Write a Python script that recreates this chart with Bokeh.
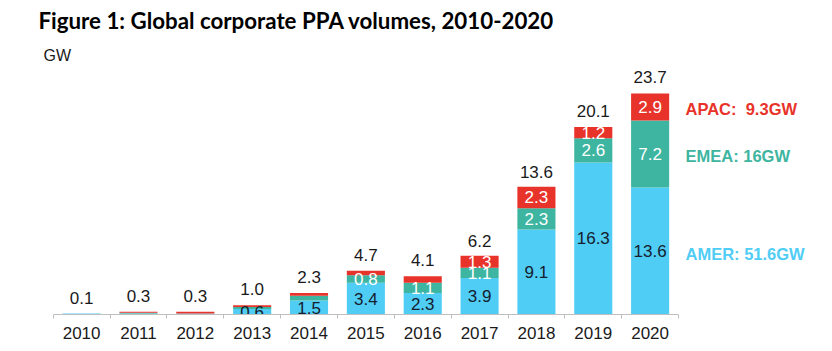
from bokeh.plotting import figure
from bokeh.models import ColumnDataSource, FixedTicker, Range1d
from bokeh.core.properties import value
from bokeh.embed import file_html
from bokeh.resources import INLINE

years = ["2010", "2011", "2012", "2013", "2014", "2015", "2016", "2017", "2018", "2019", "2020"]
amer = [0.1, 0.1, 0.1, 0.6, 1.5, 3.4, 2.3, 3.9, 9.1, 16.3, 13.6]
emea = [0.0, 0.1, 0.0, 0.2, 0.5, 0.8, 1.1, 1.1, 2.3, 2.6, 7.2]
apac = [0.0, 0.1, 0.2, 0.2, 0.3, 0.5, 0.7, 1.3, 2.3, 1.2, 2.9]
totals = [0.1, 0.3, 0.3, 1.0, 2.3, 4.7, 4.1, 6.2, 13.6, 20.1, 23.7]
legend_labels = ["APAC:\u00a0 9.3GW", "EMEA: 16GW", "AMER: 51.6GW"]
title_text = "Figure 1: Global corporate PPA volumes, 2010-2020"
unit_text = "GW"

C_AMER = "#50CDF5"
C_EMEA = "#3DB5A0"
C_APAC = "#E8332A"

# pixel geometry -> data ranges
PX_PER_CAT = 56.85
X0_PX = 52.7
BASE_PX = 314.0
PX_PER_GW = 9.33
W, H = 832, 351
BOTTOM = H - BASE_PX

def dx(px):
    return (px - X0_PX) / PX_PER_CAT

def dy(py):
    return (BASE_PX - py) / PX_PER_GW

p = figure(width=W, height=H, output_backend="svg", toolbar_location=None,
           x_range=Range1d(dx(0), dx(W)), y_range=Range1d(0, dy(0)),
           y_axis_location=None, min_border_left=0, min_border_right=0,
           min_border_top=0, min_border_bottom=int(BOTTOM))
p.outline_line_color = None
p.xgrid.visible = False
p.ygrid.visible = False
p.background_fill_color = "white"
p.border_fill_color = "white"

xs = [i + 0.5 for i in range(len(years))]
src = ColumnDataSource(dict(x=xs, AMER=amer, EMEA=emea, APAC=apac))
p.vbar_stack(["AMER", "EMEA", "APAC"], x="x", width=0.67, source=src,
             color=[C_AMER, C_EMEA, C_APAC], line_color=None)

# x axis
ax = p.xaxis[0]
ax.ticker = FixedTicker(ticks=xs, minor_ticks=list(range(len(years) + 1)))
ax.major_label_overrides = {x: y for x, y in zip(xs, years)}
ax.bounds = (0, len(years))
ax.axis_line_color = "#BFBFBF"
ax.axis_line_width = 1
ax.major_tick_line_color = None
ax.major_tick_out = 0
ax.major_tick_in = 0
ax.minor_tick_line_color = "#BFBFBF"
ax.minor_tick_out = 4
ax.minor_tick_in = 0
ax.major_label_standoff = 8
ax.major_label_text_font = "Liberation Sans"
ax.major_label_text_font_size = "17px"
ax.major_label_text_color = "#1a1a1a"

FONT = value("Liberation Sans")
FS = "17px"

# totals
p.text(x=xs, y=totals, text=[f"{t:.1f}" for t in totals], text_font=FONT,
       text_font_size=FS, text_color="#1a1a1a", text_align="center",
       text_baseline="middle", y_offset=-16)

# segment labels
am_idx = [i for i in range(len(years)) if i >= 3]
p.text(x=[xs[i] for i in am_idx], y=[amer[i] / 2 for i in am_idx],
       text=[f"{amer[i]:.1f}" for i in am_idx], text_font=FONT,
       text_font_size=FS, text_color="#14202e", text_align="center",
       text_baseline="middle")
em_idx = [i for i in range(len(years)) if i >= 5]
p.text(x=[xs[i] for i in em_idx], y=[amer[i] + emea[i] / 2 for i in em_idx],
       text=[f"{emea[i]:.1f}" for i in em_idx], text_font=FONT,
       text_font_size=FS, text_color="white", text_align="center",
       text_baseline="middle")
ap_idx = [i for i in range(len(years)) if i >= 7]
p.text(x=[xs[i] for i in ap_idx], y=[amer[i] + emea[i] + apac[i] / 2 for i in ap_idx],
       text=[f"{apac[i]:.1f}" for i in ap_idx], text_font=FONT,
       text_font_size=FS, text_color="white", text_align="center",
       text_baseline="middle")

# side legend labels
p.text(x=[dx(685)] * 3, y=[dy(108), dy(155), dy(253)], text=legend_labels,
       text_font=FONT, text_font_size="16.5px", text_font_style="bold",
       text_color=[C_APAC, C_EMEA, C_AMER], text_align="left",
       text_baseline="middle")

# title and unit
p.text(x=[dx(38)], y=[dy(20)], text=[title_text], text_font=value("Lato"),
       text_font_size="22.3px", text_font_style="bold", text_color="#000000",
       text_align="left", text_baseline="middle")
p.text(x=[dx(43)], y=[dy(55)], text=[unit_text], text_font=FONT,
       text_font_size="16px", text_color="#1a1a1a", text_align="left",
       text_baseline="middle")

open("out.html", "w").write(file_html(p, INLINE))
